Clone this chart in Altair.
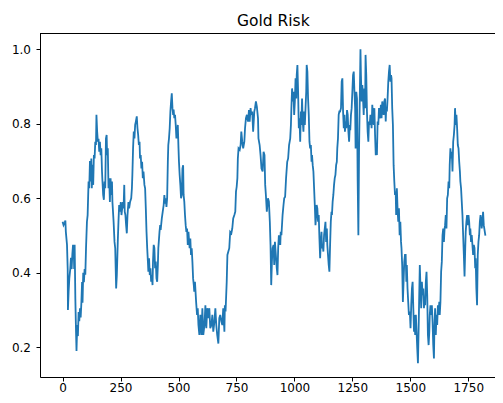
import altair as alt
import pandas as pd

# Values: index (x) and risk (y)
x_part1 = [0, 4, 9, 12, 14, 19, 22, 23, 26, 29, 33, 36, 39, 42, 45, 48, 50, 52, 55, 58, 60, 63, 66, 69, 72, 75, 78, 81, 84, 86, 89, 92, 95, 98, 101, 105, 108, 112, 115, 118, 121, 124, 126, 129, 132, 135, 138, 141, 144, 146, 149, 152, 155, 158, 161, 164, 167, 170, 172, 175, 178, 181, 184, 187, 190, 192, 195, 198, 201, 204, 207, 210, 213, 215, 220, 224, 227, 231, 234, 238, 241, 244, 248, 251, 254, 257, 260, 263, 266, 268, 271, 274, 277, 280, 284]
y_part1 = [0.537, 0.528, 0.535, 0.54, 0.51, 0.475, 0.41, 0.30, 0.35, 0.385, 0.41, 0.44, 0.41, 0.45, 0.475, 0.465, 0.41, 0.475, 0.33, 0.24, 0.19, 0.26, 0.23, 0.295, 0.27, 0.305, 0.28, 0.32, 0.375, 0.32, 0.40, 0.375, 0.41, 0.395, 0.465, 0.537, 0.555, 0.645, 0.627, 0.70, 0.645, 0.707, 0.627, 0.69, 0.636, 0.716, 0.707, 0.752, 0.743, 0.824, 0.78, 0.752, 0.76, 0.725, 0.752, 0.716, 0.734, 0.672, 0.645, 0.609, 0.596, 0.645, 0.627, 0.76, 0.77, 0.716, 0.734, 0.627, 0.654, 0.59, 0.654, 0.609, 0.645, 0.59, 0.537, 0.483, 0.466, 0.358, 0.394, 0.483, 0.537, 0.582, 0.564, 0.59, 0.555, 0.573, 0.59, 0.573, 0.636, 0.564, 0.555, 0.528, 0.506, 0.555, 0.59]

x_part2 = [287, 291, 296, 299, 301, 304, 307, 310, 313, 316, 320, 323, 326, 329, 332, 334, 337, 340, 343, 346, 349, 353, 356, 359, 362, 365, 368, 370, 373, 376, 379, 382, 385, 388, 390, 393, 396, 399, 402, 405, 408, 411, 413, 418, 421, 423, 428, 432, 436, 439, 442, 445, 448, 451, 454, 456, 459, 462, 465, 468, 471, 474, 477, 479, 482, 485, 488, 491, 494, 497, 500, 502, 505, 508, 511, 514, 517, 520, 522, 525, 528, 531, 534, 537, 540, 543, 545, 548, 551, 554, 557, 560, 563, 566, 568, 571]
y_part2 = [0.573, 0.59, 0.60, 0.627, 0.663, 0.734, 0.779, 0.761, 0.797, 0.806, 0.82, 0.788, 0.77, 0.743, 0.752, 0.707, 0.716, 0.68, 0.698, 0.654, 0.672, 0.636, 0.627, 0.573, 0.51, 0.466, 0.43, 0.403, 0.439, 0.394, 0.412, 0.376, 0.394, 0.367, 0.43, 0.475, 0.466, 0.412, 0.43, 0.385, 0.376, 0.421, 0.466, 0.51, 0.528, 0.515, 0.546, 0.564, 0.582, 0.609, 0.586, 0.60, 0.577, 0.60, 0.698, 0.743, 0.761, 0.788, 0.833, 0.86, 0.882, 0.842, 0.824, 0.838, 0.815, 0.824, 0.797, 0.761, 0.77, 0.797, 0.734, 0.698, 0.663, 0.636, 0.60, 0.609, 0.68, 0.689, 0.609, 0.591, 0.555, 0.528, 0.51, 0.519, 0.475, 0.51, 0.492, 0.466, 0.492, 0.448, 0.466, 0.43, 0.385, 0.367, 0.349, 0.376]

x_part3 = [576, 580, 583, 586, 590, 594, 599, 603, 607, 612, 616, 620, 624, 629, 633, 637, 642, 646, 650, 655, 659, 663, 667, 672, 676, 680, 685, 689, 693, 698, 700, 703, 708, 711, 715, 719, 723, 728, 732, 736, 741, 745, 748, 751, 754, 756, 759, 764, 768, 771, 775, 779, 784, 787, 791, 795, 800, 804, 807, 811, 814, 818, 822, 827, 830, 834, 838, 843, 845, 850, 854, 858, 863, 867, 871, 874, 877, 881, 886, 890]
y_part3 = [0.322, 0.287, 0.305, 0.26, 0.233, 0.287, 0.233, 0.305, 0.233, 0.26, 0.313, 0.251, 0.305, 0.278, 0.305, 0.251, 0.26, 0.287, 0.242, 0.269, 0.305, 0.26, 0.233, 0.21, 0.278, 0.287, 0.269, 0.26, 0.305, 0.242, 0.313, 0.296, 0.376, 0.448, 0.457, 0.466, 0.51, 0.506, 0.519, 0.546, 0.555, 0.564, 0.618, 0.631, 0.654, 0.707, 0.734, 0.73, 0.743, 0.779, 0.752, 0.734, 0.752, 0.788, 0.815, 0.824, 0.806, 0.837, 0.806, 0.842, 0.824, 0.833, 0.779, 0.833, 0.842, 0.86, 0.846, 0.815, 0.761, 0.743, 0.716, 0.68, 0.672, 0.725, 0.716, 0.636, 0.609, 0.564, 0.60, 0.591]

x_part4 = [894, 897, 900, 903, 906, 910, 913, 916, 920, 924, 927, 930, 933, 936, 939, 941, 944, 949, 953, 956, 960, 964, 969, 973, 977, 982, 985, 987, 990, 993, 996, 999, 1002, 1005, 1008, 1010, 1013, 1016, 1019, 1022, 1025, 1028, 1030, 1033, 1036, 1039, 1042, 1045, 1048, 1051, 1053, 1056, 1059, 1062, 1065, 1068, 1071, 1074, 1076, 1079, 1082, 1085, 1088, 1091, 1094, 1096, 1099, 1102, 1105, 1108, 1111, 1114, 1117, 1119, 1122, 1125, 1128, 1131, 1134, 1137, 1140, 1142, 1145, 1148, 1151, 1154, 1157, 1160, 1162, 1165, 1168, 1171, 1174, 1177, 1180, 1183, 1185, 1188, 1191, 1194]
y_part4 = [0.537, 0.475, 0.367, 0.43, 0.466, 0.475, 0.421, 0.483, 0.448, 0.412, 0.394, 0.466, 0.501, 0.483, 0.475, 0.51, 0.501, 0.555, 0.582, 0.60, 0.604, 0.654, 0.698, 0.707, 0.743, 0.761, 0.797, 0.842, 0.895, 0.86, 0.886, 0.824, 0.86, 0.922, 0.868, 0.931, 0.958, 0.886, 0.788, 0.815, 0.752, 0.833, 0.797, 0.868, 0.806, 0.779, 0.833, 0.797, 0.842, 0.886, 0.958, 0.94, 0.868, 0.824, 0.752, 0.734, 0.743, 0.698, 0.716, 0.689, 0.672, 0.627, 0.582, 0.528, 0.555, 0.582, 0.573, 0.537, 0.555, 0.492, 0.439, 0.483, 0.51, 0.466, 0.475, 0.457, 0.501, 0.519, 0.537, 0.483, 0.519, 0.475, 0.448, 0.421, 0.403, 0.475, 0.537, 0.564, 0.555, 0.591, 0.609, 0.636, 0.654, 0.663, 0.689, 0.698, 0.734, 0.761, 0.824, 0.833]

x_part5 = [1197, 1201, 1204, 1207, 1210, 1213, 1216, 1218, 1221, 1224, 1227, 1230, 1233, 1236, 1239, 1241, 1244, 1247, 1250, 1253, 1256, 1259, 1262, 1264, 1267, 1270, 1273, 1276, 1279, 1282, 1285, 1287, 1290, 1293, 1296, 1299, 1302, 1305, 1307, 1310, 1313, 1316, 1319, 1322, 1325, 1328, 1330, 1333, 1336, 1339, 1342, 1345, 1348, 1351, 1353, 1356, 1359, 1362, 1365, 1368, 1371, 1373, 1376, 1379, 1382, 1385, 1388, 1391, 1394, 1396, 1399, 1402, 1405, 1408, 1411, 1414, 1417, 1419, 1422, 1425, 1428, 1431, 1434, 1437, 1439, 1442, 1445, 1448, 1451, 1454, 1457, 1460, 1462, 1465, 1468, 1471, 1474, 1477, 1480, 1483, 1485, 1488, 1491, 1494]
y_part5 = [0.833, 0.842, 0.913, 0.922, 0.833, 0.788, 0.824, 0.779, 0.806, 0.788, 0.837, 0.824, 0.779, 0.752, 0.797, 0.783, 0.824, 0.842, 0.886, 0.931, 0.94, 0.886, 0.842, 0.734, 0.886, 0.868, 0.645, 0.501, 0.734, 0.868, 1.0, 0.931, 0.86, 0.904, 0.868, 0.824, 0.895, 0.842, 0.985, 0.931, 0.833, 0.779, 0.752, 0.806, 0.797, 0.824, 0.815, 0.788, 0.851, 0.824, 0.797, 0.842, 0.77, 0.716, 0.743, 0.716, 0.806, 0.797, 0.842, 0.815, 0.824, 0.851, 0.815, 0.86, 0.842, 0.824, 0.86, 0.868, 0.806, 0.842, 0.833, 0.868, 0.913, 0.94, 0.958, 0.913, 0.931, 0.922, 0.842, 0.797, 0.689, 0.645, 0.609, 0.618, 0.555, 0.627, 0.573, 0.537, 0.573, 0.501, 0.537, 0.483, 0.466, 0.421, 0.322, 0.376, 0.43, 0.448, 0.448, 0.376, 0.421, 0.358, 0.322, 0.287]

x_part6 = [1498, 1501, 1504, 1507, 1510, 1513, 1516, 1518, 1521, 1524, 1527, 1530, 1533, 1536, 1538, 1541, 1544, 1547, 1550, 1553, 1556, 1559, 1561, 1564, 1567, 1570, 1573, 1576, 1579, 1582, 1584, 1587, 1590, 1593, 1596, 1599, 1602, 1604, 1607, 1610, 1613, 1616, 1619, 1622, 1625, 1627, 1630, 1633, 1636, 1639, 1642, 1645, 1648, 1650, 1653, 1656, 1659, 1662, 1665, 1668, 1670, 1673, 1676, 1679, 1682, 1685, 1688, 1691, 1693, 1696, 1699, 1702, 1705, 1708, 1711, 1714, 1716, 1719, 1722, 1725, 1728, 1731, 1734, 1737, 1739, 1742, 1745, 1748, 1751, 1754, 1757, 1759, 1762, 1765, 1768, 1771, 1774, 1777, 1780, 1782, 1785, 1788, 1791, 1794, 1797, 1800, 1803, 1805, 1808, 1811, 1814, 1817, 1824]
y_part6 = [0.296, 0.251, 0.313, 0.358, 0.376, 0.305, 0.242, 0.287, 0.233, 0.287, 0.242, 0.197, 0.157, 0.251, 0.322, 0.421, 0.358, 0.305, 0.376, 0.34, 0.358, 0.305, 0.331, 0.313, 0.376, 0.403, 0.34, 0.233, 0.206, 0.242, 0.287, 0.313, 0.287, 0.313, 0.269, 0.206, 0.17, 0.251, 0.305, 0.233, 0.287, 0.26, 0.313, 0.287, 0.322, 0.287, 0.322, 0.403, 0.43, 0.501, 0.519, 0.483, 0.519, 0.528, 0.555, 0.519, 0.60, 0.609, 0.645, 0.627, 0.689, 0.734, 0.707, 0.725, 0.672, 0.752, 0.77, 0.797, 0.842, 0.797, 0.824, 0.788, 0.743, 0.734, 0.698, 0.672, 0.645, 0.627, 0.591, 0.555, 0.501, 0.448, 0.39, 0.466, 0.51, 0.537, 0.555, 0.528, 0.555, 0.537, 0.501, 0.519, 0.483, 0.501, 0.475, 0.448, 0.475, 0.466, 0.412, 0.439, 0.358, 0.313, 0.448, 0.483, 0.501, 0.537, 0.555, 0.546, 0.519, 0.537, 0.564, 0.528, 0.50]

x_ticks = [0, 250, 500, 750, 1000, 1250, 1500, 1750]
y_ticks = [0.2, 0.4, 0.6, 0.8, 1.0]
chart_title = ["Gold Risk"]

xs = x_part1 + x_part2 + x_part3 + x_part4 + x_part5 + x_part6
ys = y_part1 + y_part2 + y_part3 + y_part4 + y_part5 + y_part6
df = pd.DataFrame({"x": xs, "y": ys})

FONT = "DejaVu Sans"
W, H = 455, 344

x_scale = alt.Scale(domain=[-97.5, 1865.4], nice=False, zero=False)
y_scale = alt.Scale(domain=[0.1203, 1.04376], nice=False, zero=False)

line = (
    alt.Chart(df)
    .mark_line(color="#1f77b4", strokeWidth=1.8)
    .encode(
        x=alt.X(
            "x:Q", scale=x_scale,
            axis=alt.Axis(values=x_ticks, format="d", title=None, grid=False,
                          domain=True, domainColor="#000", domainWidth=1,
                          ticks=True, tickSize=4, tickColor="#000", tickWidth=1,
                          labelFont=FONT, labelFontSize=12, labelColor="#000",
                          labelBaseline="alphabetic", labelPadding=10.5,
                          labelFlush=False, labelOverlap=False),
        ),
        y=alt.Y(
            "y:Q", scale=y_scale,
            axis=alt.Axis(values=y_ticks, format=".1f", title=None, grid=False,
                          domain=True, domainColor="#000", domainWidth=1,
                          ticks=True, tickSize=4, tickColor="#000", tickWidth=1,
                          labelFont=FONT, labelFontSize=12, labelColor="#000",
                          labelPadding=5.5, labelFlush=False, labelOverlap=False),
        ),
        order="x:Q",
    )
)

top_spine = alt.Chart(df).mark_rule(color="#000", strokeWidth=1).encode(
    x=alt.value(0), x2=alt.value(W), y=alt.value(0.5)
)

title = (
    alt.Chart(pd.DataFrame({"t": chart_title}))
    .mark_text(font=FONT, fontSize=15.5, color="#000", align="center",
               baseline="alphabetic")
    .encode(text="t:N", x=alt.value(233.3), y=alt.value(-7.5))
)

chart = (
    alt.layer(line, top_spine, title)
    .properties(
        width=W,
        height=H,
        background="white",
        autosize=alt.AutoSizeParams(type="none"),
        padding={"left": 32, "top": 25, "right": 0, "bottom": 18},
    )
    .configure_view(stroke=None)
)

chart.save("out.html", embed_options={"renderer": "svg", "actions": False})
